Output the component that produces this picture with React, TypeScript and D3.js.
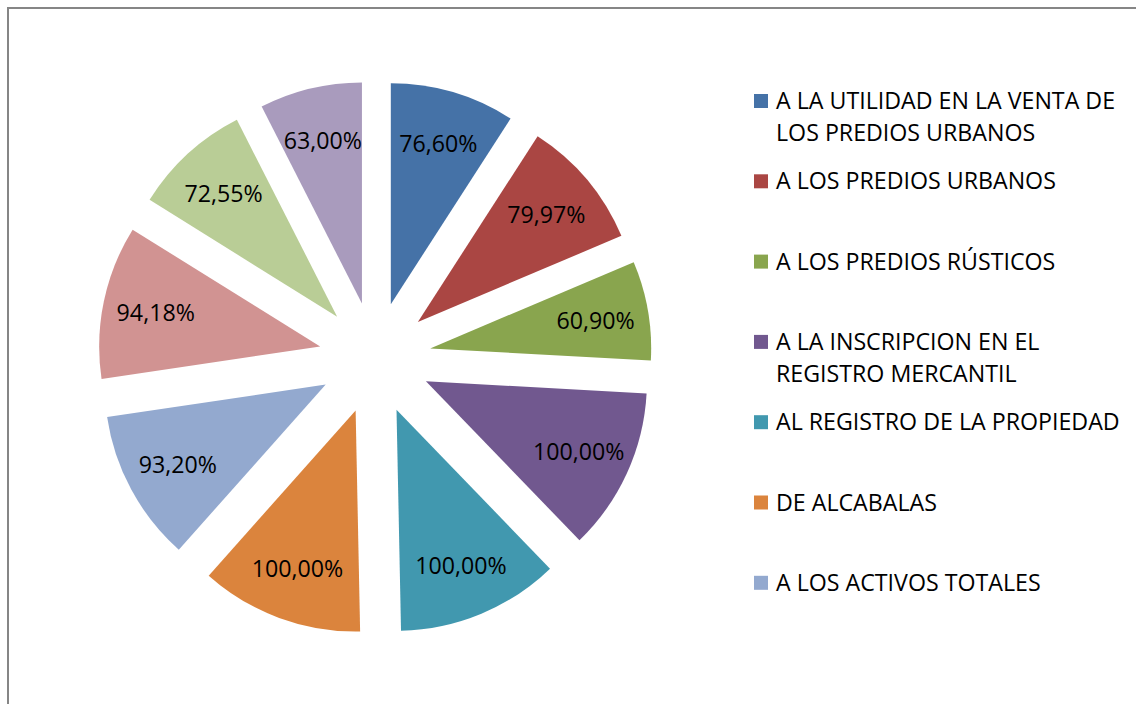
import * as d3 from "d3";

// Slice values, in drawing order (clockwise from 12 o'clock)
const values = [76.6, 79.97, 60.9, 100, 100, 100, 93.2, 94.18, 72.55, 63.0];

// Legend names; Excel only had room for the first seven
const categories = [
  ["A LA UTILIDAD EN LA VENTA DE", "LOS PREDIOS URBANOS"],
  ["A LOS PREDIOS URBANOS"],
  ["A LOS PREDIOS RÚSTICOS"],
  ["A LA INSCRIPCION EN EL", "REGISTRO MERCANTIL"],
  ["AL REGISTRO DE LA PROPIEDAD"],
  ["DE ALCABALAS"],
  ["A LOS ACTIVOS TOTALES"],
];
const legendShown = 7;

// Excel 2007 palette
const colors = [
  "#4572A7", "#AA4643", "#89A54E", "#71588F", "#4198AF",
  "#DB843D", "#93A9CF", "#D19392", "#B9CD96", "#A99BBD",
];

const width = 1136;
const height = 704;
const cx = 375;
const cy = 358;
const radius = 221;
const explode = 56; // how far each slice is pulled out
const labelDist = 168; // label distance from the slice tip

const font = "'Open Sans', sans-serif";
const fontSize = 23.2;

// legend layout
const legendX = 754;
const legendTop = 109;
const legendStep = 80.3;
const lineGap = 32;
const box = 14;

const fmt = (v: number) => v.toFixed(2).replace(".", ",") + "%";

export default function App() {
  const pie = d3.pie<number>().sort(null).value((d) => d).startAngle(0).endAngle(2 * Math.PI);
  const arcs = pie(values);
  const arc = d3.arc<d3.PieArcDatum<number>>().innerRadius(0).outerRadius(radius);

  return (
    <svg
      width={width}
      height={height}
      style={{ position: "absolute", left: 0, top: 0, background: "#fff" }}
    >
      {/* chart area border, runs off the page on the right and bottom */}
      <rect x={8} y={8} width={1200} height={800} fill="#fff" stroke="#868686" strokeWidth={2} />

      <g transform={`translate(${cx},${cy})`}>
        {arcs.map((d, i) => {
          const mid = (d.startAngle + d.endAngle) / 2;
          const ox = explode * Math.sin(mid);
          const oy = -explode * Math.cos(mid);
          const lx = labelDist * Math.sin(mid);
          const ly = -labelDist * Math.cos(mid);
          return (
            <g key={i} transform={`translate(${ox},${oy})`}>
              <path d={arc(d) ?? ""} fill={colors[i]} />
              <text
                x={lx}
                y={ly}
                textAnchor="middle"
                dominantBaseline="central"
                fontFamily={font}
                fontSize={fontSize}
                fill="#000"
              >
                {fmt(d.data)}
              </text>
            </g>
          );
        })}
      </g>

      <g>
        {categories.slice(0, legendShown).map((lines, i) => {
          const base = legendTop + i * legendStep;
          return (
            <g key={i}>
              <rect x={legendX} y={base - 8 - box / 2} width={box} height={box} fill={colors[i]} />
              <text fontFamily={font} fontSize={fontSize} fill="#000">
                {lines.map((t, j) => (
                  <tspan key={j} x={776} y={base + j * lineGap}>
                    {t}
                  </tspan>
                ))}
              </text>
            </g>
          );
        })}
      </g>
    </svg>
  );
}
